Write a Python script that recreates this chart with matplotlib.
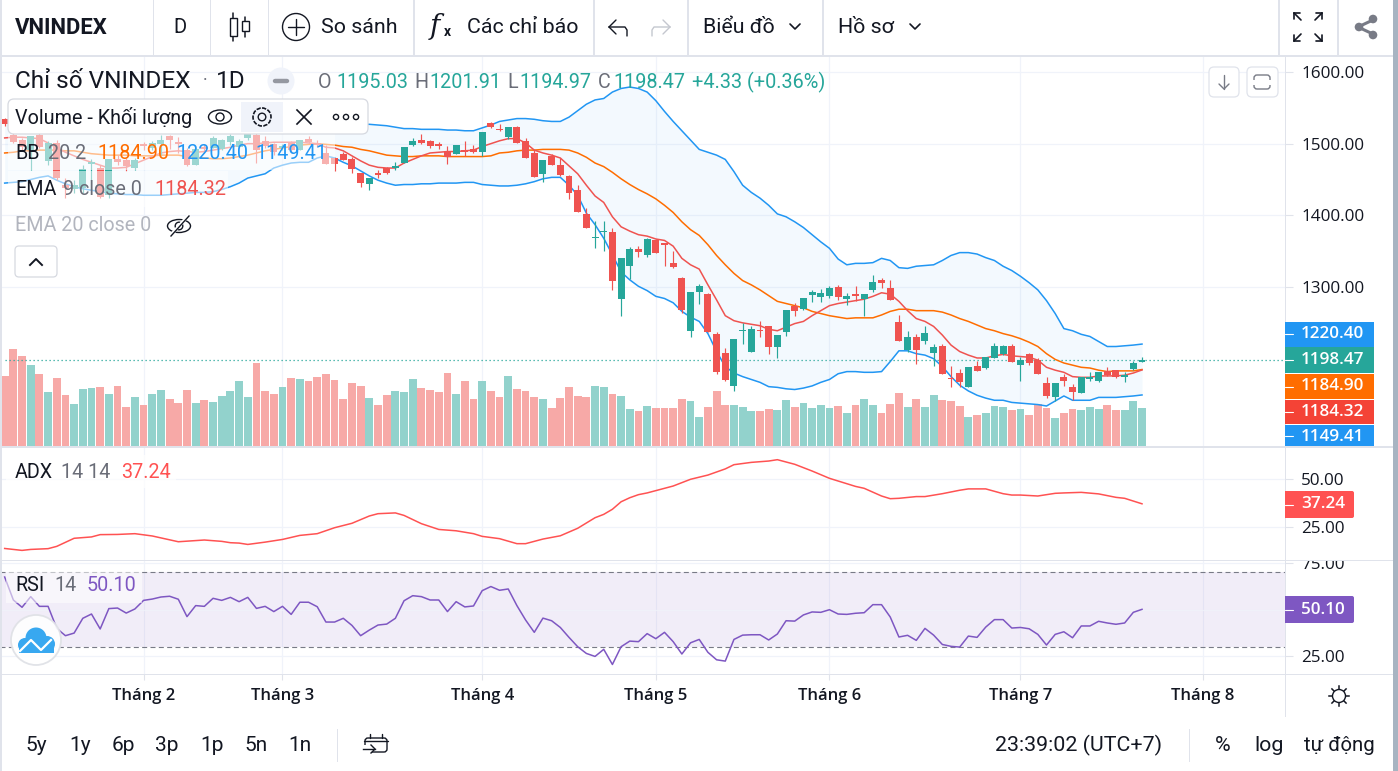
import numpy as np
import matplotlib
matplotlib.use("Agg")
import matplotlib.pyplot as plt
from matplotlib.patches import Rectangle, Circle, FancyBboxPatch, Ellipse
from matplotlib.transforms import TransformedBbox, Bbox

plt.rcParams['font.family'] = ['Roboto', 'DejaVu Sans']

# ------------------------------- data -------------------------------
opens = [1534,1512,1505,1491,1512,1476,1501,1442,1437,1438,1472,1466,1428,1478,1477,1466,1500,1494,1500,1511,1502,1491,1470,1495,1494,1493,1502,1495,1508,1512,1504,1500,1494,1501,1491,1506,1501,1487,1480,1486,1479,1459,1444,1459,1466,1466,
 1473,1498,1505,1504,1500,1490,1486,1491,1492,1488,1529,1520,1509,1523,1504,1487,1458,1483,1470,1455,1435,1402,1369,1377,1377,1283,1329,1353,1345,1366,1361,1334,1313,1239,1293,1290,1234,1208,1162,1239,1209,1240,1246,1216,1237,1274,
 1269,1289,1286,1287,1300,1283,1290,1283,1296,1310,1299,1251,1212,1230,1225,1208,1218,1173,1180,1160,1190,1187,1201,1207,1218,1191,1207,1198,1166,1147,1174,1161,1152,1172,1169,1183,1184,1174,1186,1195.03]
highs = [1536,1515,1508,1511,1519,1504,1505,1452,1449,1470,1479,1470,1479,1484,1480,1480,1502,1504,1512,1512,1509,1494,1494,1500,1511,1506,1513,1506,1518,1515,1511,1501,1500,1504,1505,1511,1505,1498,1480,1488,1481,1459,1452,1463,1467,1474,
 1496,1508,1514,1505,1503,1497,1498,1504,1498,1516,1530,1527,1523,1525,1508,1491,1477,1486,1480,1456,1442,1410,1392,1392,1382,1341,1356,1357,1368,1367,1362,1350,1314,1293,1304,1292,1237,1215,1227,1250,1246,1253,1246,1233,1268,1278,
 1285,1296,1297,1301,1303,1292,1301,1290,1317,1313,1310,1261,1239,1234,1246,1220,1220,1190,1186,1188,1197,1202,1222,1219,1220,1202,1208,1201,1174,1166,1179,1165,1174,1181,1181,1188,1184,1181,1197,1201.91]
lows = [1525,1501,1491,1463,1494,1470,1449,1424,1431,1431,1449,1424,1424,1470,1462,1463,1491,1491,1484,1493,1487,1469,1470,1487,1494,1491,1498,1494,1505,1473,1494,1484,1491,1489,1491,1501,1495,1472,1462,1477,1459,1440,1435,1452,1458,1463,
 1473,1497,1500,1494,1493,1472,1486,1483,1487,1483,1522,1518,1507,1501,1480,1454,1447,1470,1455,1423,1405,1382,1354,1350,1296,1260,1311,1342,1342,1347,1329,1327,1264,1230,1276,1237,1179,1169,1155,1221,1209,1230,1207,1201,1232,1260,
 1268,1279,1279,1285,1282,1275,1280,1260,1293,1299,1282,1225,1209,1193,1220,1190,1179,1160,1160,1160,1183,1186,1201,1205,1195,1169,1191,1179,1145,1141,1162,1142,1152,1169,1167,1176,1173,1167,1184,1194.97]
closes = [1527,1502,1495,1511,1495,1501,1452,1438,1442,1465,1475,1426,1479,1475,1469,1477,1497,1501,1505,1505,1500,1470,1493,1493,1508,1505,1511,1504,1513,1491,1497,1488,1497,1491,1505,1503,1498,1472,1472,1477,1465,1445,1452,1456,1459,1469,
 1495,1504,1501,1497,1497,1481,1498,1488,1489,1516,1523,1519,1523,1501,1480,1454,1477,1470,1456,1431,1405,1382,1370,1378,1308,1341,1353,1349,1367,1347,1359,1328,1268,1293,1301,1237,1181,1170,1227,1240,1241,1239,1216,1233,1268,1267,
 1285,1293,1292,1299,1286,1287,1287,1290,1307,1306,1282,1225,1230,1212,1236,1216,1179,1171,1167,1188,1183,1202,1218,1218,1195,1198,1194,1179,1148,1166,1169,1154,1174,1174,1181,1177,1174,1177,1194,1198.47]

volumes = [211,291,270,243,216,162,204,153,126,171,174,177,156,180,117,147,123,156,168,141,129,168,129,138,132,150,165,195,147,249,165,156,177,204,201,195,207,216,198,141,189,180,144,123,153,165,
 162,201,174,168,162,219,156,195,141,195,165,147,210,171,165,147,141,114,144,177,150,147,180,177,156,150,111,105,120,114,114,114,141,135,87,117,165,123,123,117,105,105,111,108,138,117,
 129,114,123,114,120,99,123,141,123,99,126,159,117,141,117,153,138,135,120,87,93,99,120,117,108,111,93,126,114,84,99,111,108,117,111,123,108,108,135,114]

bb_upper = [1529,1530,1531,1532,1533,1534,1535,1535,1535,1535,1535,1535,1535,1535,1535,1535,1535,1535,1535,1535,1535,1535,1535,1534,1534,1534,1534,1534,1534,1533,1533,1533,1532,1532,1531,1531,1530,1530,1529,1529,1528,1527,1527,1526,1525,1523,
 1521,1521,1520,1520,1520,1519,1519,1518,1518,1522,1526,1531,1533,1535,1535,1534,1532,1531,1531,1537,1546,1555,1561,1563,1572,1577,1579,1577,1572,1560,1545,1531,1518,1505,1492,1488,1484,1478,1461,1442,1432,1424,1414,1402,1398,1391,
 1383,1373,1363,1354,1339,1331,1333,1333,1334,1340,1337,1327,1326,1329,1330,1331,1337,1344,1348,1348,1346,1341,1337,1329,1323,1315,1306,1296,1281,1263,1242,1239,1234,1231,1224,1217,1217,1218,1219,1220.40]
bb_basis = [1487,1488,1490,1490,1491,1491,1491,1490,1490,1488,1486,1485,1484,1484,1484,1483,1483,1483,1484,1484,1484,1482,1481,1480,1479,1479,1480,1482,1484,1487,1490,1492,1494,1496,1498,1499,1500,1499,1498,1496,1495,1492,1490,1487,1484,1483,
 1482,1482,1483,1483,1483,1482,1482,1482,1482,1482,1483,1487,1488,1490,1491,1491,1492,1492,1492,1491,1487,1481,1473,1468,1460,1451,1443,1436,1430,1423,1414,1404,1391,1380,1372,1359,1344,1331,1319,1309,1303,1296,1288,1280,1277,1274,
 1271,1266,1263,1260,1258,1256,1257,1257,1257,1261,1266,1269,1269,1267,1267,1267,1265,1261,1256,1252,1247,1242,1239,1235,1232,1228,1223,1217,1207,1199,1194,1191,1188,1187,1184,1182,1183,1183,1183,1184.90]
bb_lower = [1445,1446,1447,1450,1453,1455,1449,1444,1440,1437,1435,1433,1431,1430,1429,1429,1428,1428,1428,1429,1430,1431,1432,1432,1433,1436,1440,1445,1452,1455,1458,1466,1470,1473,1474,1474,1480,1483,1480,1474,1469,1462,1455,1449,1445,1442,
 1443,1443,1444,1444,1445,1445,1445,1446,1446,1443,1442,1441,1441,1442,1444,1447,1451,1453,1453,1442,1428,1403,1387,1368,1345,1321,1310,1301,1295,1287,1284,1278,1266,1258,1252,1235,1210,1189,1180,1175,1171,1167,1161,1160,1158,1157,
 1159,1162,1167,1171,1179,1182,1182,1181,1181,1182,1196,1211,1211,1207,1205,1200,1189,1175,1163,1155,1149,1145,1142,1142,1139,1138,1137,1136,1134,1141,1148,1142,1142,1142,1146,1146,1146,1147,1148,1149.41]
ema9 = [1508,1509,1509,1508,1507,1501,1494,1488,1483,1478,1474,1470,1466,1466,1467,1472,1477,1482,1487,1489,1490,1489,1488,1489,1491,1493,1495,1498,1500,1500,1501,1502,1502,1502,1502,1501,1500,1495,1494,1490,1483,1476,1470,1467,1466,1466,
 1473,1478,1483,1487,1488,1489,1489,1490,1491,1496,1500,1504,1507,1507,1501,1491,1487,1484,1480,1469,1458,1442,1427,1418,1398,1384,1378,1373,1371,1367,1365,1357,1340,1331,1325,1303,1282,1260,1253,1250,1248,1246,1241,1239,1244,1249,
 1252,1260,1267,1274,1277,1279,1281,1283,1287,1292,1290,1280,1267,1256,1252,1245,1233,1219,1210,1205,1201,1201,1204,1206,1204,1203,1202,1198,1188,1184,1181,1175,1174,1174,1176,1176,1176,1177,1180,1184.32]

adx_idx = [0,1,2,3,5,6,8,10,11,13,15,17,20,23,25,26,27,28,30,32,34,36,38,40,42,43,45,46,48,50,52,54,55,57,59,60,62,64,66,68,
 69,70,71,72,73,74,75,77,79,81,83,84,86,88,89,91,93,95,96,98,99,101,102,103,105,106,108,110,111,113,115,116,117,119,121,122,124,126,128,129,131]
adx_values = [14.0,13.5,13.0,13.5,13.9,15.1,19.3,20.0,21.2,21.3,21.7,20.5,17.5,18.4,17.7,17.0,16.8,16.1,17.3,18.7,20.8,21.7,24.8,27.1,30.9,32.1,32.5,31.2,26.9,23.9,23.2,21.7,20.3,19.1,16.5,16.5,18.9,20.6,24.5,30.0,
 31.75,34.4,38.3,40.4,42.0,42.9,44.1,46.5,50.0,52.2,55.4,57.6,58.8,59.5,60.2,57.8,54.3,50.5,49.1,46.3,45.3,41.3,39.9,40.1,41.0,41.0,42.5,44.3,45.0,45.0,42.5,41.8,41.8,41.3,42.7,42.9,43.2,42.4,40.6,40.1,37.24]

rsi_values = [67.4,55.1,51.2,56.9,51.7,51.7,39.9,36.0,37.4,45.3,47.6,39.6,50.5,50.8,48.1,50.3,54.9,55.6,56.7,57.1,55.5,46.2,52.1,51.7,56.0,54.9,56.5,54.2,56.5,50.6,51.7,48.9,51.7,47.4,53.9,53.9,51.5,43.3,43.3,45.3,41.5,36.0,39.0,41.7,42.2,45.3,
 54.7,57.4,56.9,55.1,55.1,48.9,54.2,51.4,51.9,60.1,62.3,60.3,61.0,52.1,44.4,37.8,45.4,44.0,40.4,35.1,30.1,26.5,24.9,28.7,20.6,30.1,33.1,32.8,37.1,34.4,37.8,32.8,26.2,32.2,34.0,27.1,23.1,22.4,34.0,36.3,36.5,36.5,33.7,36.9,44.0,43.8,
 47.1,48.7,48.5,49.9,47.6,47.4,48.0,48.3,52.6,52.6,46.0,35.3,36.2,33.5,39.9,36.3,31.3,30.3,29.9,35.8,35.1,40.6,44.6,44.6,40.1,40.4,39.7,36.7,31.0,36.7,38.1,34.9,41.2,41.2,43.7,42.8,42.1,42.8,48.5,50.10]

month_idx = [16, 32, 55, 75, 95, 117, 138]
month_labels = ['Tháng 2', 'Tháng 3', 'Tháng 4', 'Tháng 5', 'Tháng 6', 'Tháng 7', 'Tháng 8']
price_ticks = [1300, 1400, 1500, 1600]
adx_ticks = [25, 50]
rsi_ticks = [25, 75]
rsi_band = (30, 70)
last_prices = [('1220.40', '#2196f3'), ('1198.47', '#26a69a'), ('1184.90', '#ff6d00'), ('1184.32', '#f44336'), ('1149.41', '#2196f3')]

# ------------------------------- layout -------------------------------
W, H = 1398, 771
UP, DN = '#26a69a', '#ef5350'
VUP, VDN = '#92d2cc', '#f7a9a7'
GRID = '#f0f3fa'
BORDER = '#e0e3eb'
TXT = '#131722'
MUTED = '#6a6d78'
AXF = 'Open Sans'
AXS = 12.3

fig = plt.figure(figsize=(W / 100, H / 100), dpi=100, facecolor='white')

def pane(y0, y1, ymax, ymin):
    ax = fig.add_axes([0, 1 - y1 / H, 1285 / W, (y1 - y0) / H])
    ax.set_xlim((0 - 4.67) / 8.682, (1285 - 4.67) / 8.682)
    ax.set_ylim(ymin, ymax)
    ax.set_facecolor('white')
    for s in ax.spines.values():
        s.set_visible(False)
    ax.tick_params(axis='x', length=0, labelbottom=False)
    ax.set_xticks(month_idx)
    ax.grid(True, color=GRID, linewidth=0.9)
    ax.set_axisbelow(True)
    return ax

def right_axis(ax, ticks):
    ax.yaxis.tick_right()
    ax.tick_params(axis='y', length=5.8, pad=5.8, color=BORDER, width=0.8, labelsize=AXS, labelcolor=TXT)
    ax.set_yticks(ticks)
    ax.set_yticklabels([f'{t:.2f}' for t in ticks], fontfamily=AXF)

x = np.arange(len(closes))
opens, highs, lows, closes = map(np.array, (opens, highs, lows, closes))
is_up = closes >= opens

# main pane
ax = pane(56, 446, 1622.3, 1078.2)

# volume on its own scale in the same pane
vax = ax.twinx()
vax.set_ylim(0, 1170)
vax.axis('off')
vax.set_zorder(ax.get_zorder() + 1)
vax.patch.set_visible(False)
vax.bar(x, volumes, width=0.9, color=[VUP if u else VDN for u in is_up], linewidth=0)

pax = ax.twinx()
pax.set_ylim(ax.get_ylim())
pax.axis('off')
pax.set_zorder(vax.get_zorder() + 1)
pax.patch.set_visible(False)
pax.fill_between(x, bb_lower, bb_upper, color='#2196f3', alpha=0.05, linewidth=0)
pax.plot(x, bb_upper, color='#2196f3', lw=1.1)
pax.plot(x, bb_lower, color='#2196f3', lw=1.1)
pax.plot(x, bb_basis, color='#ff6d00', lw=1.1, zorder=3)
pax.plot(x, ema9, color='#ef5350', lw=1.1, zorder=3)
cols = [UP if u else DN for u in is_up]
pax.vlines(x, lows, highs, colors=cols, linewidth=0.85, zorder=4)
body = np.maximum(np.abs(closes - opens), 1.4)
pax.bar(x, body, bottom=np.minimum(opens, closes), width=0.8, color=cols, linewidth=0, zorder=5)
pax.plot([x[0], 170], [closes[-1]] * 2, color=UP, lw=0.9, ls=(0, (1, 2.2)), zorder=2)
right_axis(ax, price_ticks)

# ADX pane
ax2 = pane(447, 560, 66.8, 8.0)
right_axis(ax2, adx_ticks)
ax2.plot(adx_idx, adx_values, color='#ff5252', lw=1.1)

# RSI pane
ax3 = pane(560, 674, 76.5, 15.5)
right_axis(ax3, rsi_ticks)
ax3.axhspan(rsi_band[0], rsi_band[1], color='#7e57c2', alpha=0.1, linewidth=0)
for lvl in rsi_band:
    ax3.axhline(lvl, color='#787b86', lw=0.8, ls=(0, (4.5, 3)))
ax3.axhline(50, color=GRID, lw=0.9, alpha=0.8)
ax3.plot(x, rsi_values, color='#7e57c2', lw=1.1)
ax3.tick_params(axis='x', length=4.3, color=BORDER, width=0.8, labelbottom=True, pad=5.5, labelsize=12, labelcolor=TXT)
ax3.set_xticklabels(month_labels, fontfamily=AXF, fontweight='semibold')
for lab in ax3.get_yticklabels():
    lab.set_clip_on(True)
    lab.set_clip_box(TransformedBbox(Bbox([[0, 1 - 674 / H], [1, 1 - 560 / H]]), fig.transFigure))

# ------------------------------- interface layer -------------------------------
ui = fig.add_axes([0, 0, 1, 1], zorder=20)
ui.set_xlim(0, W)
ui.set_ylim(H, 0)
ui.axis('off')
ui.patch.set_alpha(0)

def T(px, py, s, size=14.2, color=TXT, ha='left', weight='normal', family=None, z=6, **kw):
    return ui.text(px, py + 1.5, s, fontsize=size, color=color, ha=ha, va='center', fontweight=weight, zorder=z,
                   fontfamily=family if family else ['Roboto', 'DejaVu Sans'], **kw)

def R(x0, y0, x1, y1, fc, ec='none', lw=0, alpha=None, z=1):
    ui.add_patch(Rectangle((x0, y0), x1 - x0, y1 - y0, facecolor=fc, edgecolor=ec, linewidth=lw, alpha=alpha, zorder=z))

def L(xs, ys, color=TXT, lw=1.0, **kw):
    kw.setdefault('solid_capstyle', 'round')
    ui.plot(xs, ys, color=color, lw=lw, **kw)

def RB(x0, y0, x1, y1, fc='white', ec=BORDER, lw=0.9, r=4, alpha=None, z=1):
    ui.add_patch(FancyBboxPatch((x0 + r, y0 + r), x1 - x0 - 2 * r, y1 - y0 - 2 * r,
                                boxstyle=f'round,pad={r},rounding_size={r}', facecolor=fc, edgecolor=ec,
                                linewidth=lw, alpha=alpha, zorder=z))

# page frame and bars
R(0, 0, W, 55, 'white')
R(0, 54.5, 1393, 56.5, BORDER)
R(0, 674, 1393, 675, BORDER)
R(0, 0, 1.6, H, BORDER)
R(1393, 0, W, H, '#a8b4c2', z=5)
R(1285, 56, 1286, 674, BORDER)
R(1285, 674, 1286, 717, BORDER)
R(0, 446, 1393, 448, BORDER)
R(0, 560, 1393, 561, BORDER)
for sx in [152.5, 209.5, 267.5, 413, 593, 687, 822, 1278, 1337]:
    R(sx, 0, sx + 1.6, 55, BORDER)

# toolbar
TB = 15.4
T(15, 26, 'VNINDEX', 15.9, weight='bold')
T(180, 26, 'D', 14.5, ha='center')
L([233, 233], [13, 41], lw=1.1); L([245, 245], [17, 37], lw=1.1)
ui.add_patch(Rectangle((229.5, 18), 7, 18, fc='white', ec=TXT, lw=1.0, zorder=4))
ui.add_patch(Rectangle((241.5, 21), 7, 10, fc='white', ec=TXT, lw=1.0, zorder=4))
ui.add_patch(Circle((296, 27), 13.5, fc='none', ec=TXT, lw=1.0))
L([288, 304], [27, 27], lw=1.0); L([296, 296], [19, 35], lw=1.0)
T(321, 26, 'So sánh', TB)
T(430, 25, 'f', 20, family=['DejaVu Serif'], style='italic')
T(444, 30, 'x', 10, weight='bold')
T(467, 26, 'Các chỉ báo', TB)
L([609, 625, 627, 627], [27, 27, 30, 36], lw=1.0)
L([609, 616], [27, 20], lw=1.0); L([609, 616], [27, 34], lw=1.0)
L([670, 654, 652, 652], [27, 27, 30, 36], color='#c4c7cf', lw=1.0)
L([670, 663], [27, 20], color='#c4c7cf', lw=1.0); L([670, 663], [27, 34], color='#c4c7cf', lw=1.0)
T(703, 26, 'Biểu đồ', TB)
L([790, 795, 800], [24, 29, 24], lw=1.2)
T(838, 26, 'Hồ sơ', TB)
L([910, 915, 920], [24, 29, 24], lw=1.2)
for cx, cy, dx, dy in [(1301, 20, -1, -1), (1315, 20, 1, -1), (1301, 34, -1, 1), (1315, 34, 1, 1)]:
    L([cx, cx + dx * 7], [cy, cy + dy * 7], lw=1.2)
    L([cx + dx * 7, cx + dx * 7 - dx * 6], [cy + dy * 7, cy + dy * 7], lw=1.2)
    L([cx + dx * 7, cx + dx * 7], [cy + dy * 7, cy + dy * 7 - dy * 6], lw=1.2)
L([1375, 1358, 1375], [19, 27, 35], color='#787b86', lw=2.2)
for cy, cx in [(19, 1373), (27, 1359), (35, 1373)]:
    ui.add_patch(Circle((cx, cy), 4.3, fc='#787b86', ec='none', zorder=3))

# main legend
T(15, 80, 'Chỉ số VNINDEX', 17.6)
T(203, 80, '·', 13, color=MUTED)
T(216, 80, '1D', 17.6)
ui.add_patch(Circle((281, 81), 13.5, fc='#f0f3fa', ec='none'))
L([275, 287], [81, 81], color='#9598a1', lw=3.2)
T(318, 81, 'O', 14.2, color=MUTED)
T(336, 81, '1195.03', 14.2, color=UP)
T(414, 81, 'H', 14.2, color=MUTED)
T(429, 81, '1201.91', 14.2, color=UP)
T(507, 81, 'L', 14.2, color=MUTED)
T(519, 81, '1194.97', 14.2, color=UP)
T(598, 81, 'C', 14.2, color=MUTED)
T(613, 81, '1198.47', 14.2, color=UP)
T(692, 81, '+4.33 (+0.36%)', 14.3, color=UP)

# pane buttons
RB(1209, 67, 1239, 97, fc='white', ec=BORDER, r=5)
L([1224, 1224], [75, 89], color='#787b86', lw=1.0)
L([1219, 1224, 1229], [84, 89, 84], color='#787b86', lw=1.0)
RB(1247, 67, 1278, 97, fc='white', ec=BORDER, r=5)
RB(1254, 75, 1270, 89, fc='none', ec='#787b86', lw=1.0, r=3, z=2)
R(1252, 79.5, 1272, 84.5, 'white', z=3)

# legend rows
R(8, 134, 335, 170, 'white', alpha=0.55, z=2)
R(8, 171, 228, 207, 'white', alpha=0.55, z=2)
RB(8, 99, 368, 134, fc='white', ec='#d6d9e0', lw=0.9, r=6, z=3)
T(15, 116, 'Volume - Khối lượng')
R(241, 102, 283, 132, '#f0f3fa', z=4)
# eye
ui.add_patch(Ellipse((220, 117), 23, 14, fc='white', ec=TXT, lw=1.0, zorder=5))
ui.add_patch(Circle((220, 117), 4, fc='white', ec=TXT, lw=1.0, zorder=6))
# gear
ui.add_patch(Circle((262, 117), 9, fc='#f0f3fa', ec=TXT, lw=1.2, zorder=5, ls=(0, (2.6, 0.8))))
ui.add_patch(Circle((262, 117), 3.8, fc='#f0f3fa', ec=TXT, lw=1.0, zorder=6))
# close
ui.plot([297, 311], [110, 124], color=TXT, lw=1.2, zorder=5)
ui.plot([297, 311], [124, 110], color=TXT, lw=1.2, zorder=5)
for dx in [336, 346, 356]:
    ui.add_patch(Circle((dx, 117), 2.6, fc='white', ec=TXT, lw=1.0, zorder=5))

for px, py, s, c in [(15, 152, 'BB', TXT), (48, 152, '20 2', MUTED), (97, 152, '1184.90', '#ff6d00'),
                     (176, 152, '1220.40', '#2196f3'), (255, 152, '1149.41', '#2196f3'),
                     (15, 188, 'EMA', TXT), (63, 188, '9 close 0', MUTED), (154, 188, '1184.32', '#ef5350'),
                     (15, 224, 'EMA 20 close 0', '#b2b5be')]:
    T(px, py, s, color=c)
# hidden eye
ui.add_patch(Ellipse((179, 226), 23, 13, fc='white', ec=TXT, lw=1.0, zorder=5))
ui.add_patch(Circle((179, 226), 3.8, fc='white', ec=TXT, lw=1.0, zorder=6))
ui.plot([170, 188], [236, 216], color='white', lw=2.4, zorder=7)
ui.plot([171, 189], [236, 216], color=TXT, lw=1.0, zorder=8)
# collapse button
RB(15, 246, 57, 277, fc='white', ec='#d6d9e0', r=4, z=3)
ui.plot([30, 36, 42], [265, 259, 265], color=TXT, lw=1.4, zorder=5)

# ADX and RSI legends
R(6, 455, 176, 488, 'white', alpha=0.7, z=2)
for px, py, s, c in [(15, 471, 'ADX', TXT), (61, 471, '14 14', MUTED), (121, 471, '37.24', '#ff5252')]:
    T(px, py, s, color=c)
R(6, 570, 142, 603, 'white', alpha=0.55, z=2)
for px, py, s, c in [(15, 584, 'RSI', TXT), (54, 584, '14', MUTED), (87, 584, '50.10', '#7e57c2')]:
    T(px, py, s, color=c)

# logo
ui.add_patch(Circle((36, 640), 25, fc='white', ec='#dfe1e6', lw=1.3, zorder=4, alpha=0.92))
for cx, cy, rr in [(25, 645, 7), (36, 638, 10.5), (47, 644, 8)]:
    ui.add_patch(Circle((cx, cy), rr, fc='#38a8f0', ec='none', zorder=5))
ui.add_patch(Rectangle((19, 644), 35, 8.5, fc='#38a8f0', ec='none', zorder=5))
ui.plot([20, 31, 41, 51], [651, 640, 650, 640], color='white', lw=1.6, zorder=6)

# axis value badges
for (s, c), (y0, y1) in zip(last_prices, [(322, 346.5), (347, 373), (374, 399), (400, 424), (425, 446)]):
    R(1285, y0, 1374, y1, c, z=3)
    L([1285, 1293], [(y0 + y1) / 2] * 2, color='white', lw=0.8, zorder=4)
    t = ui.text(1301, (y0 + y1) / 2 + (1.5 if y1 == 446 else 0), s, color='white', fontsize=AXS, fontfamily=AXF,
                fontweight='semibold', ha='left', va='center', zorder=5, clip_on=True)
    t.set_clip_box(TransformedBbox(Bbox([[0, 1 - 446 / H], [1, 1]]), fig.transFigure))
for s, c, yc in [('37.24', '#ff5252', 504.5), ('50.10', '#7e57c2', 609.5)]:
    RB(1285, yc - 13.5, 1354, yc + 13.5, fc=c, ec='none', r=2, z=3)
    R(1285, yc - 13.5, 1289, yc + 13.5, c, z=3)
    L([1285, 1293], [yc, yc], color='white', lw=0.8, zorder=4)
    ui.text(1301, yc, s, color='white', fontsize=AXS, fontfamily=AXF, fontweight='semibold', ha='left', va='center', zorder=5)

# axis settings glyph
ui.add_patch(Circle((1339, 696), 6.5, fc='white', ec=TXT, lw=1.0, zorder=3))
for a in np.deg2rad(np.arange(0, 360, 45)):
    ui.plot([1339 + 7 * np.cos(a), 1339 + 10 * np.cos(a)], [696 + 7 * np.sin(a), 696 + 10 * np.sin(a)], color=TXT, lw=1.1)

# range bar
for cx, s in zip([36, 80, 123, 167, 212, 256, 300], ['5y', '1y', '6p', '3p', '1p', '5n', '1n']):
    T(cx, 744, s, 15, ha='center')
R(336.5, 729, 338, 762, BORDER)
ui.add_patch(FancyBboxPatch((365, 738), 22, 14, boxstyle='round,pad=0,rounding_size=3', fc='none', ec=TXT, lw=1.0))
L([364, 388], [741, 741], lw=1.0)
L([370, 370], [734, 738], lw=1.0); L([382, 382], [734, 738], lw=1.0)
R(361, 745, 372, 755, 'white', z=3)
ui.plot([363, 375], [749, 749], color=TXT, lw=1.0, zorder=4)
ui.plot([371, 375, 371], [745, 749, 753], color=TXT, lw=1.0, zorder=4)
T(995, 744, '23:39:02 (UTC+7)', 15.4)
R(1188.5, 729, 1190, 762, BORDER)
T(1223, 744, '%', 15.4, ha='center')
T(1269, 744, 'log', 15.4, ha='center')
T(1339, 744, 'tự động', 14.7, ha='center')

fig.savefig('out.png', dpi=100, facecolor='white')
